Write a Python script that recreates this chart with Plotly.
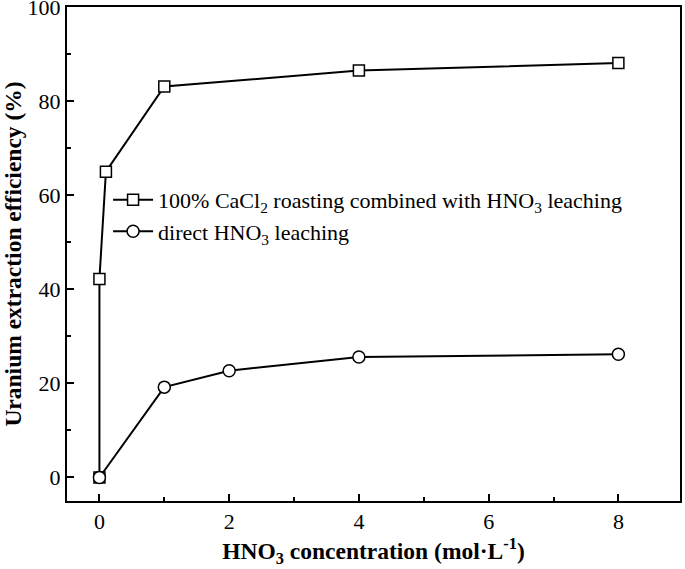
import plotly.graph_objects as go

x_cacl2 = [0, 0, 0.1, 1, 4, 8]
y_cacl2 = [0, 42.2, 65.0, 83.1, 86.5, 88.1]
x_direct = [0, 1, 2, 4, 8]
y_direct = [0, 19.2, 22.7, 25.6, 26.2]

name_cacl2 = "100% CaCl<sub>2</sub> roasting combined with HNO<sub>3</sub> leaching"
name_direct = "direct HNO<sub>3</sub> leaching"

FONT = "Liberation Serif"

fig = go.Figure()
fig.add_trace(go.Scatter(
    x=x_cacl2, y=y_cacl2, name=name_cacl2, mode="lines+markers",
    line=dict(color="black", width=2),
    marker=dict(symbol="square", size=11, color="white", line=dict(color="black", width=1.5)),
))
fig.add_trace(go.Scatter(
    x=x_direct, y=y_direct, name=name_direct, mode="lines+markers",
    line=dict(color="black", width=2),
    marker=dict(symbol="circle", size=12, color="white", line=dict(color="black", width=1.5)),
))

fig.update_layout(
    width=685, height=569,
    margin=dict(l=67, r=5, t=7, b=68),
    paper_bgcolor="white", plot_bgcolor="white",
    font=dict(family=FONT, size=22, color="black"),
    showlegend=True,
    legend=dict(x=0.067, y=0.652, xanchor="left", yanchor="top",
                bgcolor="rgba(0,0,0,0)", font=dict(size=22, family=FONT),
                itemwidth=40, tracegroupgap=0),
)
fig.update_xaxes(
    range=[-0.5, 8.95], tickvals=[0, 2, 4, 6, 8],
    ticks="inside", ticklen=7, tickwidth=2, tickcolor="black",
    minor=dict(tickvals=[1, 3, 5, 7], ticks="inside", ticklen=4, tickwidth=2, tickcolor="black"),
    showline=True, linecolor="black", linewidth=2, mirror=True,
    showgrid=False, zeroline=False, automargin=False, ticklabeloverflow="allow",
    tickfont=dict(size=22, family=FONT),
    title=dict(text="<b>HNO<sub>3</sub> concentration (mol·L<sup>-1</sup>)</b>",
               font=dict(size=23.5, family=FONT), standoff=5),
)
fig.update_yaxes(
    range=[-5, 100], tickvals=[0, 20, 40, 60, 80, 100],
    ticks="inside", ticklen=7, tickwidth=2, tickcolor="black",
    minor=dict(tickvals=[10, 30, 50, 70, 90], ticks="inside", ticklen=4, tickwidth=2, tickcolor="black"),
    showline=True, linecolor="black", linewidth=2, mirror=True,
    showgrid=False, zeroline=False, automargin=False, ticklabeloverflow="allow",
    tickfont=dict(size=22, family=FONT),
    title=dict(text="<b>Uranium extraction efficiency (%)</b>",
               font=dict(size=23.5, family=FONT), standoff=6),
)

fig.write_html("out.html", config={"displayModeBar": False},
               post_script="document.body.style.margin='0';document.body.style.overflow='hidden';")
